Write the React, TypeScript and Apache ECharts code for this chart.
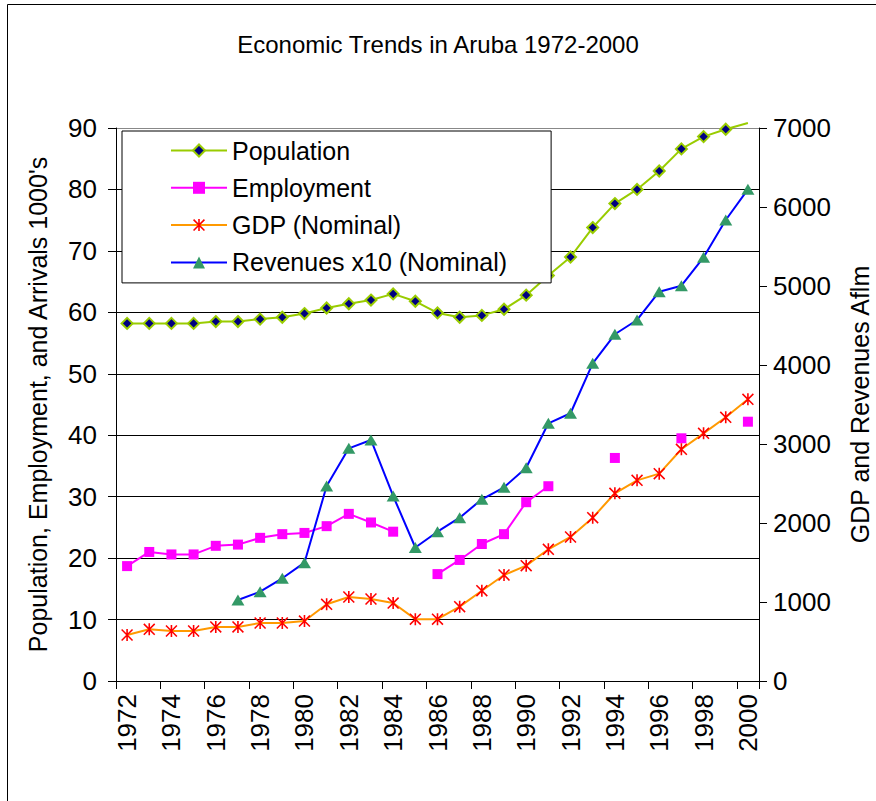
import React, { useEffect, useRef } from "react";
import * as echarts from "echarts";

const years = [
  "1972", "1973", "1974", "1975", "1976", "1977", "1978", "1979", "1980", "1981",
  "1982", "1983", "1984", "1985", "1986", "1987", "1988", "1989", "1990", "1991",
  "1992", "1993", "1994", "1995", "1996", "1997", "1998", "1999", "2000",
];

const population = [
  58.2, 58.2, 58.2, 58.2, 58.5, 58.5, 58.9, 59.2, 59.8, 60.7,
  61.4, 62.0, 63.0, 61.8, 59.9, 59.2, 59.5, 60.5, 62.8, 66.0,
  69.0, 73.8, 77.7, 80.0, 83.0, 86.6, 88.6, 89.8, 90.8,
];

const employment = [
  18.7, 21.0, 20.6, 20.6, 22.0, 22.2, 23.3, 23.9, 24.1, 25.2,
  27.2, 25.8, 24.3, null, 17.4, 19.7, 22.3, 23.9, 29.1, 31.7,
  null, null, 36.3, null, null, 39.5, null, null, 42.2,
];

const gdp = [
  582, 654, 633, 633, 684, 684, 734, 734, 759, 971,
  1063, 1038, 987, 783, 783, 941, 1143, 1342, 1460, 1667,
  1823, 2067, 2376, 2540, 2625, 2933, 3135, 3338, 3566,
];

const revenues = [
  null, null, null, null, null, 1025, 1131, 1300, 1498, 2468,
  2945, 3051, 2342, 1690, 1890, 2067, 2300, 2452, 2700, 3262,
  3389, 4021, 4389, 4570, 4928, 5004, 5363, 5835, 6224,
];

const leftTicks = { min: 0, max: 90, interval: 10 };
const rightTicks = { min: 0, max: 7000, interval: 1000 };

const FONT = "'Liberation Sans', Arial, sans-serif";
const ASTERISK =
  "path://M5.2,0H6.8V12H5.2Z M0,1.1L1.1,0L12,10.9L10.9,12Z M10.9,0L12,1.1L1.1,12L0,10.9Z";

export default function App() {
  const ref = useRef<HTMLDivElement>(null);
  useEffect(() => {
    if (!ref.current) return;
    const chart = echarts.init(ref.current, undefined, { renderer: "svg" });
    const popData = population.map((v, i) =>
      i === population.length - 1 ? { value: v, symbol: "none" } : v
    );
    chart.setOption({
      animation: false,
      backgroundColor: "#fff",
      textStyle: { fontFamily: FONT, color: "#000" },
      title: {
        text: "Economic Trends in Aruba 1972-2000",
        left: "center",
        top: 27,
        textStyle: { fontFamily: FONT, fontSize: 24, fontWeight: "normal", color: "#000" },
      },
      graphic: [
        {
          type: "rect",
          z: -10,
          shape: { x: 7.5, y: 4.5, width: 1000, height: 1000 },
          style: { fill: "none", stroke: "#000", lineWidth: 1 },
        },
      ],
      legend: {
        orient: "vertical",
        left: 122,
        top: 131,
        padding: [7, 44, 8, 48],
        itemGap: 12.3,
        itemWidth: 56,
        itemHeight: 15,
        backgroundColor: "#fff",
        borderColor: "#000",
        borderWidth: 1,
        textStyle: { fontFamily: FONT, fontSize: 25, color: "#000" },
        data: ["Population", "Employment", "GDP (Nominal)", "Revenues x10 (Nominal)"],
      },
      grid: {
        left: 116,
        right: 117,
        top: 128,
        bottom: 120,
        containLabel: false,
        outerBoundsMode: "none",
      },
      xAxis: {
        type: "category",
        data: years,
        boundaryGap: true,
        axisLine: { lineStyle: { color: "#000", width: 1 } },
        axisTick: { show: true, length: 8, lineStyle: { color: "#000" } },
        axisLabel: {
          interval: 1,
          rotate: 90,
          margin: 13,
          fontSize: 26,
          fontFamily: FONT,
          color: "#000",
        },
      },
      yAxis: [
        {
          type: "value",
          ...leftTicks,
          position: "left",
          name: "Population, Employment, and Arrivals 1000's",
          nameLocation: "middle",
          nameRotate: 90,
          nameGap: 66,
          nameTextStyle: { fontFamily: FONT, fontSize: 25, color: "#000" },
          axisLine: { show: true, lineStyle: { color: "#000", width: 1 } },
          axisTick: { show: true, length: 8, lineStyle: { color: "#000" } },
          axisLabel: {
            margin: 19,
            fontSize: 26,
            fontFamily: FONT,
            color: "#000",
            formatter: (v: number) => String(v),
          },
          splitLine: {
            show: true,
            lineStyle: {
              color: ["#000", "#000", "#000", "#000", "#000", "#000", "#000", "#000", "#000", "#888"],
              width: 1,
            },
          },
        },
        {
          type: "value",
          ...rightTicks,
          position: "right",
          name: "GDP and Revenues Aflm",
          nameLocation: "middle",
          nameRotate: 90,
          nameGap: 88,
          nameTextStyle: { fontFamily: FONT, fontSize: 25, color: "#000" },
          axisLine: { show: true, lineStyle: { color: "#000", width: 1 } },
          axisTick: { show: true, length: 8, lineStyle: { color: "#000" } },
          axisLabel: {
            margin: 14,
            fontSize: 26,
            fontFamily: FONT,
            color: "#000",
            formatter: (v: number) => String(v),
          },
          splitLine: { show: false },
        },
      ],
      series: [
        {
          name: "Population",
          type: "line",
          yAxisIndex: 0,
          data: popData,
          clip: false,
          showAllSymbol: true,
          symbol: "diamond",
          symbolSize: 11,
          lineStyle: { color: "#99CC00", width: 2 },
          itemStyle: { color: "#000080", borderColor: "#99CC00", borderWidth: 2 },
          z: 3,
        },
        {
          name: "Employment",
          type: "line",
          yAxisIndex: 0,
          data: employment,
          connectNulls: false,
          showAllSymbol: true,
          symbol: "rect",
          symbolSize: 10,
          lineStyle: { color: "#FF00FF", width: 2 },
          itemStyle: { color: "#FF00FF", borderWidth: 0 },
          z: 3,
        },
        {
          name: "GDP (Nominal)",
          type: "line",
          yAxisIndex: 1,
          data: gdp,
          showAllSymbol: true,
          symbol: ASTERISK,
          symbolSize: 12,
          lineStyle: { color: "#FF9900", width: 2 },
          itemStyle: { color: "#FF0000", borderWidth: 0 },
          z: 3,
        },
        {
          name: "Revenues x10 (Nominal)",
          type: "line",
          yAxisIndex: 1,
          data: revenues,
          connectNulls: false,
          showAllSymbol: true,
          symbol: "triangle",
          symbolSize: [13, 11],
          lineStyle: { color: "#0000FF", width: 2 },
          itemStyle: { color: "#339966", borderWidth: 0 },
          z: 3,
        },
      ],
    });
    return () => chart.dispose();
  }, []);
  return (
    <div
      ref={ref}
      style={{ position: "absolute", left: 0, top: 0, width: 876, height: 801 }}
    />
  );
}
